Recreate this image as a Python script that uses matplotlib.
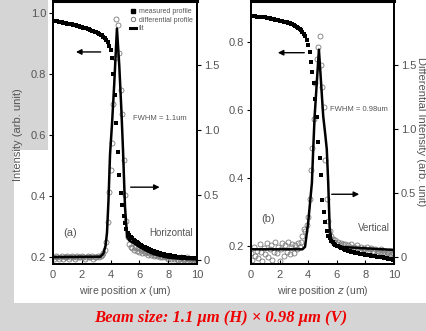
import matplotlib.pyplot as plt
import numpy as np
from matplotlib.lines import Line2D
from matplotlib.patches import Polygon

plt.rcParams["font.family"] = ["Liberation Sans", "DejaVu Sans"]

# wire positions (um), 0.1 um step
x_pos = np.round(np.arange(0, 101) * 0.1, 1)

# (a) horizontal scan
meas_a = [
    .975, .974, .973, .972, .971, .970, .969, .968, .967, .966,
    .965, .964, .963, .962, .961, .960, .959, .958, .956, .955,
    .953, .952, .950, .949, .947, .946, .944, .942, .940, .938,
    .936, .934, .932, .929, .926, .922, .917, .911, .903, .893,
    .878, .852, .800, .730, .640, .545, .470, .410, .370, .335,
    .310, .292, .280, .272, .266, .261, .257, .253, .249, .246,
    .243, .240, .237, .234, .232, .229, .227, .225, .223, .221,
    .219, .217, .216, .214, .213, .211, .210, .209, .208, .207,
    .206, .205, .204, .203, .203, .202, .201, .201, .200, .200,
    .199, .199, .198, .198, .198, .197, .197, .197, .196, .196,
    .196,
]
diff_a = [
    .02, .01, .03, .02, .01, .02, .03, .01, .02, .02,
    .03, .01, .02, .03, .02, .01, .02, .03, .02, .02,
    .03, .02, .01, .02, .03, .02, .02, .03, .01, .02,
    .02, .03, .02, .03, .04, .05, .08, .14, .29, .52,
    .69, .90, 1.20, 1.55, 1.85, 1.81, 1.59, 1.31, 1.12, .77,
    .50, .30, .18, .12, .10, .09, .08, .10, .07, .09,
    .06, .08, .05, .07, .05, .06, .04, .05, .04, .05,
    .03, .04, .03, .04, .02, .03, .02, .03, .02, .02,
    .01, .02, .01, .02, .01, .02, .01, .00, .01, .02,
    .01, .00, .01, .02, .01, .00, .01, .00, .01, .00,
    .01,
]
fit_a_x = [0, 3.3, 3.5, 3.65, 3.75, 3.85, 3.96, 4.1, 4.25, 4.44, 4.6, 4.75,
           4.86, 5.0, 5.14, 5.3, 5.6, 6.0, 6.5, 7.0, 7.5, 8.0, 9.0, 10.0]
fit_a_y = [.022, .025, .05, .11, .21, .45, .81, 1.05, 1.35, 1.78, 1.5, 1.15,
           .85, .41, .18, .15, .13, .10, .07, .045, .03, .018, .008, .004]

# (b) vertical scan
meas_b = [
    .876, .876, .875, .875, .874, .874, .874, .873, .873, .873,
    .872, .871, .870, .869, .868, .867, .866, .865, .864, .863,
    .862, .861, .860, .859, .858, .857, .855, .854, .852, .851,
    .849, .847, .845, .842, .839, .835, .830, .824, .816, .805,
    .792, .770, .742, .712, .680, .632, .578, .507, .460, .410,
    .335, .300, .270, .245, .230, .222, .216, .211, .207, .204,
    .201, .199, .197, .195, .193, .191, .189, .187, .186, .184,
    .183, .182, .181, .180, .179, .178, .177, .176, .175, .175,
    .174, .173, .173, .172, .171, .171, .170, .170, .169, .169,
    .168, .167, .167, .166, .165, .164, .163, .162, .161, .160,
    .158,
]
diff_b = [
    .03, -.02, .08, .01, .05, -.01, .10, .04, -.03, .07,
    .02, .11, .00, .06, .09, -.02, .04, .12, .03, .08,
    -.03, .06, .11, .01, .09, .04, .12, .02, .08, .10,
    .03, .09, .06, .11, .08, .12, .16, .22, .20, .25,
    .31, .45, .68, .85, 1.08, 1.36, 1.55, 1.64, 1.73, 1.50,
    1.33, 1.17, .76, .45, .28, .20, .16, .14, .12, .13,
    .10, .12, .09, .11, .10, .08, .10, .07, .09, .08,
    .10, .07, .08, .06, .09, .07, .05, .08, .06, .07,
    .05, .08, .04, .06, .07, .05, .04, .06, .03, .05,
    .04, .06, .03, .05, .02, .04, .03, .05, .02, .03,
    .01,
]
fit_b_x = [0, 3.6, 3.78, 4.0, 4.26, 4.35, 4.45, 4.75, 5.05, 5.2, 5.3, 5.4,
           5.5, 5.65, 6.0, 10.0]
fit_b_y = [.06, .06, .08, .27, .58, .84, 1.1, 1.62, 1.1, .95, .84, .58,
           .23, .11, .08, .055]

xticks = [0, 2, 4, 6, 8, 10]
txt = "#555555"

fig = plt.figure(figsize=(4.27, 3.31), dpi=100, facecolor="#d5d5d5")

# white paper area behind the plots (pixel outline)
W, H = 427, 331
outline = [(14, 303), (427, 303), (427, 0), (48, 0), (48, 150), (14, 150)]
fig.patches.append(Polygon([(px / W, 1 - py / H) for px, py in outline],
                           closed=True, transform=fig.transFigure,
                           facecolor="white", edgecolor="none", zorder=-5))

panels = [
    dict(rect=[53 / W, 0.2024, 144 / W, 0.7946], meas=meas_a, diff=diff_a,
         fx=fit_a_x, fy=fit_a_y, ylim=(0.177, 1.039), yt=[0.2, 0.4, 0.6, 0.8, 1.0],
         ylim2=(-0.031, 1.992), xl="x", tag="(a)", name="Horizontal",
         fwhm="FWHM = 1.1um", fwhm_xy=(7.43, 1.09),
         larrow=(3.5, 1.4, 0.872), rarrow=(5.2, 7.6, 0.56), legend=True),
    dict(rect=[251 / W, 0.2024, 143 / W, 0.7946], meas=meas_b, diff=diff_b,
         fx=fit_b_x, fy=fit_b_y, ylim=(0.147, 0.92), yt=[0.2, 0.4, 0.6, 0.8],
         ylim2=(-0.055, 2.0), xl="z", tag="(b)", name="Vertical",
         fwhm="FWHM = 0.98um", fwhm_xy=(7.55, 1.15),
         larrow=(3.92, 1.68, 0.768), rarrow=(5.45, 7.76, 0.49), legend=False),
]

for p in panels:
    ax = fig.add_axes(p["rect"])
    ax2 = ax.twinx()
    ax.set_zorder(ax2.get_zorder() + 1)
    ax.patch.set_visible(False)

    ax2.plot(x_pos, p["diff"], "o", ms=3.6, mfc="none", mec="#7a7a7a", mew=0.6)
    ax2.plot(p["fx"], p["fy"], "-", color="black", lw=1.8)
    ax.plot(x_pos, p["meas"], "s", ms=2.2, color="black", mew=0)

    ax.set_xlim(0, 10)
    ax.set_ylim(*p["ylim"])
    ax2.set_ylim(*p["ylim2"])
    ax.set_xticks(xticks)
    ax.set_yticks(p["yt"])
    ax.set_yticklabels([f"{v:.1f}" for v in p["yt"]])
    ax2.set_yticks([0, 0.5, 1.0, 1.5])
    ax2.set_yticklabels(["0", "0.5", "1.0", "1.5"])

    ax.tick_params(axis="x", direction="in", length=3, width=0.8,
                   labelsize=8, labelcolor=txt, pad=4)
    ax.tick_params(axis="y", direction="out", length=3, width=0.8,
                   labelsize=8, labelcolor=txt, pad=2)
    ax2.tick_params(axis="y", direction="out", length=3, width=0.8,
                    labelsize=8, labelcolor=txt, pad=2)
    for a in (ax, ax2):
        for s in a.spines.values():
            s.set_linewidth(1.3)
    ax2.spines["top"].set_linewidth(2.2)

    ax.set_xlabel("wire position $\\it{" + p["xl"] + "}$ (um)", fontsize=7.5,
                  color=txt, labelpad=3)

    ax.text(0.7, 0.27, p["tag"], fontsize=8, color=txt)
    ax.text(9.7, 0.27 if p["tag"] == "(a)" else 0.245, p["name"], fontsize=7,
            color=txt, ha="right")
    ax2.text(*p["fwhm_xy"], p["fwhm"], fontsize=5.5, color=txt, ha="center",
             va="center")

    x0, x1, yy = p["larrow"]
    ax.annotate("", xy=(x1, yy), xytext=(x0, yy),
                arrowprops=dict(arrowstyle="-|>", color="black", lw=1,
                                mutation_scale=8))
    x0, x1, yy = p["rarrow"]
    ax2.annotate("", xy=(x1, yy), xytext=(x0, yy),
                 arrowprops=dict(arrowstyle="-|>", color="black", lw=1,
                                 mutation_scale=8))

    if p["legend"]:
        handles = [
            Line2D([], [], ls="none", marker="s", ms=2.5, color="black"),
            Line2D([], [], ls="none", marker="o", ms=3.2, mfc="none",
                   mec="#666666", mew=0.6),
            Line2D([], [], color="black", lw=2.2),
        ]
        ax.legend(handles, ["measured profile", "differential profile", "fit"],
                  loc="upper right", bbox_to_anchor=(1.02, 1.0), frameon=False,
                  fontsize=5, labelcolor=txt, handlelength=0.9,
                  handletextpad=0.4, borderpad=0.5, labelspacing=0.25)

fig.text(18 / W, 1 - 135 / H, "Intensity (arb. unit)", rotation=90,
         fontsize=8, color=txt, ha="center", va="center")
fig.text(421 / W, 1 - 132 / H, "Differential Intensity (arb. unit)",
         rotation=270, fontsize=8, color=txt, ha="center", va="center")

fig.text(221 / W, 1 - 318 / H, "Beam size: 1.1 μm (H) × 0.98 μm (V)",
         fontsize=12, color="#ee0000", ha="center", va="center",
         family=["Liberation Serif", "DejaVu Serif"], weight="bold",
         style="italic")

fig.savefig("out.png", dpi=100, facecolor=fig.get_facecolor())
